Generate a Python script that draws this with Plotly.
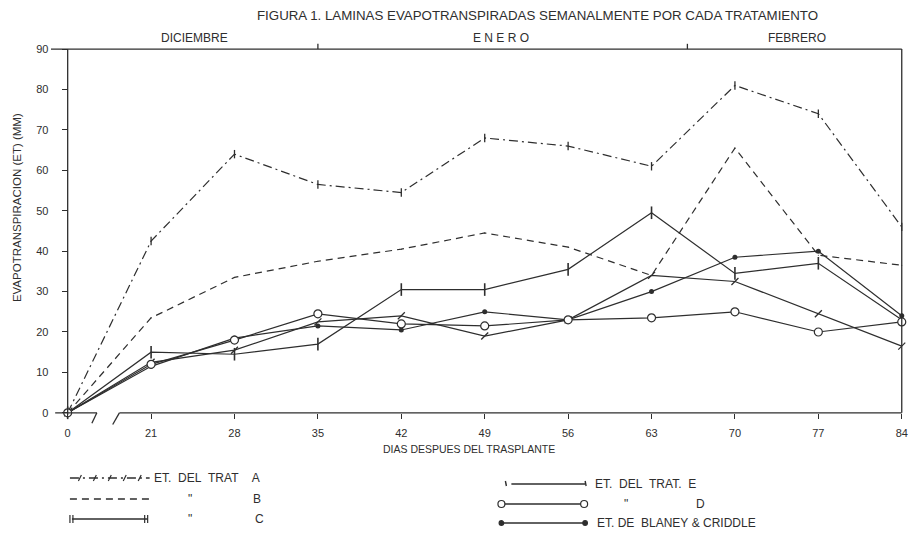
import plotly.graph_objects as go

# ---------------- data ----------------
days = ["0", "21", "28", "35", "42", "49", "56", "63", "70", "77", "84"]
trat_a = [0, 42.5, 64, 56.5, 54.5, 68, 66, 61, 81, 74, 46]
trat_b = [0, 23.5, 33.5, 37.5, 40.5, 44.5, 41, 34, 65.5, 39, 36.5]
trat_c = [0, 15, 14.5, 17, 30.5, 30.5, 35.5, 49.5, 34.5, 37, 23]
trat_d = [0, 12, 18, 24.5, 22, 21.5, 23, 23.5, 25, 20, 22.5]
trat_e = [0, 12.5, 15.5, 22.5, 24, 19, 23, 34, 32.5, 24.5, 16.5]
blaney = [0, 11.5, 18.5, 21.5, 20.5, 25, 23, 30, 38.5, 40, 24]
y_ticks = [0, 10, 20, 30, 40, 50, 60, 70, 80, 90]
months = ["DICIEMBRE", "E N E R O", "FEBRERO"]

TITLE = "FIGURA 1. LAMINAS EVAPOTRANSPIRADAS SEMANALMENTE POR CADA TRATAMIENTO"
YTITLE = "EVAPOTRANSPIRACION (ET) (MM)"
XTITLE = "DIAS DESPUES DEL TRASPLANTE"

# ---------------- layout geometry ----------------
W, H = 909, 537
L, R, T, B = 51, 1, 43, 108
PW, PH = W - L - R, H - T - B
XR = [-0.2, 10.039]
YR = [-4, 91.5]
INK = "#2e2e2e"
FONT = "Liberation Sans, Arial, sans-serif"
DASH_A = "9px,4px,2px,4px"
DASH_B = "7px,5px"


def px(x):
    return (x - L) / PW


def py(y):
    return (H - B - y) / PH


fig = go.Figure()


def add_series(vals, dash, marker):
    fig.add_trace(go.Scatter(
        x=days, y=vals, mode="lines+markers",
        line=dict(color=INK, width=1.2, dash=dash),
        marker=marker, showlegend=False, cliponaxis=False,
        hoverinfo="x+y"))


add_series(trat_a, DASH_A, dict(symbol="line-ns", size=6, line=dict(color=INK, width=1.3)))
add_series(trat_b, DASH_B, dict(size=1, color=INK))
add_series(trat_c, "solid", dict(symbol="line-ns", size=9, line=dict(color=INK, width=1.6)))
add_series(trat_e, "solid", dict(symbol="line-ne", size=7, line=dict(color=INK, width=1.3)))
add_series(blaney, "solid", dict(symbol="circle", size=5, color=INK))
add_series(trat_d, "solid", dict(symbol="circle", size=8, color="white", line=dict(color=INK, width=1.2)))

shapes = []


def seg(x0, y0, x1, y1, ref="data", dash="solid", width=1.3):
    r = ("x", "y") if ref == "data" else ("paper", "paper")
    shapes.append(dict(type="line", xref=r[0], yref=r[1], x0=x0, y0=y0, x1=x1, y1=y1,
                       line=dict(color=INK, width=width, dash=dash)))


# frame / axes drawn as in the original (broken x axis)
seg(0, -0.6, 0, 90)                 # y axis
seg(-0.2, 90, 10, 90)               # top border
seg(10, 90, 10, 0)                  # right border
seg(-0.15, 0, 0.35, 0)              # x axis before the break
seg(0.35, 0, 0.29, -2.6)            # break mark
seg(0.54, -2.9, 0.62, 0)            # break mark
seg(0.62, 0, 10, 0)                 # x axis after the break
seg(3, 90, 3, 91.3)                 # month boundaries
seg(7.43, 90, 7.43, 91.3)


def note(text, x, y, size, xanchor="center", yanchor="middle", angle=0, ref="paper"):
    return dict(text=text, x=x, y=y, xref=ref, yref=ref, xanchor=xanchor, yanchor=yanchor,
                showarrow=False, textangle=angle,
                font=dict(size=size, color=INK, family=FONT))


annotations = [
    note(TITLE, px(539), py(16), 13.3),
    note(YTITLE, px(17), py(208), 11.5, angle=-90),
    note(XTITLE, px(470), py(449), 10.5),
]
for name, xc in zip(months, [1.52, 5.2, 8.75]):
    a = note(name, xc, 90, 12, yanchor="bottom", ref="data")
    a["xref"], a["yref"] = "x", "y"
    a["yshift"] = 2
    annotations.append(a)


# ---------------- hand-drawn legend ----------------
def ltext(text, x, y, anchor="left"):
    annotations.append(note(text, px(x), py(y), 12, xanchor=anchor))


def circ(xc, yc, r, fill):
    shapes.append(dict(type="circle", xref="paper", yref="paper",
                       x0=px(xc - r), x1=px(xc + r), y0=py(yc + r), y1=py(yc - r),
                       fillcolor=fill, line=dict(color=INK, width=1.2)))


NB = "\u00a0"
# left column
seg(px(70), py(478), px(150), py(478), ref="paper", dash=DASH_A)
for xx in [80, 95, 110, 125, 140]:
    seg(px(xx - 1.5), py(481), px(xx + 1.5), py(475), ref="paper", width=1.2)
ltext("ET." + NB * 2 + "DEL" + NB * 2 + "TRAT" + NB * 4 + "A", 152, 478)
seg(px(70), py(499), px(150), py(499), ref="paper", dash=DASH_B)
ltext("\"", 190, 499, "center")
ltext("B", 258, 499, "center")
seg(px(72), py(519), px(148), py(519), ref="paper")
for xx in [70, 73, 145, 148]:
    seg(px(xx), py(515), px(xx), py(523), ref="paper", width=1.2)
ltext("\"", 190, 519, "center")
ltext("C", 260, 519, "center")
# right column
seg(px(513), py(484), px(587), py(484), ref="paper")
seg(px(507), py(481), px(508), py(486), ref="paper", width=1.4)
seg(px(587), py(481), px(588), py(486), ref="paper", width=1.4)
ltext("ET." + NB * 2 + "DEL" + NB * 2 + "TRAT." + NB * 2 + "E", 595, 484)
seg(px(503), py(504), px(586), py(504), ref="paper")
circ(503, 504, 3.5, "white")
circ(586, 504, 3.5, "white")
ltext("\"", 628, 504, "center")
ltext("D", 703, 504, "center")
seg(px(503), py(523), px(587), py(523), ref="paper")
circ(503, 523, 2.3, INK)
circ(587, 523, 2.3, INK)
ltext("ET." + NB + "DE" + NB * 2 + "BLANEY" + NB + "&" + NB + "CRIDDLE", 597, 523)

fig.update_layout(
    width=W, height=H, margin=dict(l=L, r=R, t=T, b=B),
    paper_bgcolor="white", plot_bgcolor="white",
    font=dict(family=FONT, color=INK),
    showlegend=False,
    xaxis=dict(type="category", categoryorder="array", categoryarray=days, range=XR,
               anchor="free", position=(0 - YR[0]) / (YR[1] - YR[0]),
               showline=False, showgrid=False, zeroline=False,
               ticks="outside", ticklen=5, tickcolor=INK, tickwidth=1,
               ticklabelstandoff=5, tickfont=dict(size=11, color=INK, family=FONT)),
    yaxis=dict(range=YR, anchor="free", position=(0 - XR[0]) / (XR[1] - XR[0]),
               tickvals=y_ticks, showline=False, showgrid=False, zeroline=False,
               ticks="outside", ticklen=6, tickcolor=INK, tickwidth=1,
               ticklabelstandoff=11, tickfont=dict(size=11, color=INK, family=FONT)),
    shapes=shapes, annotations=annotations,
)

fig.write_html("out.html", config={"displayModeBar": False},
               post_script="document.body.style.margin='0px';document.body.style.overflow='hidden';")
